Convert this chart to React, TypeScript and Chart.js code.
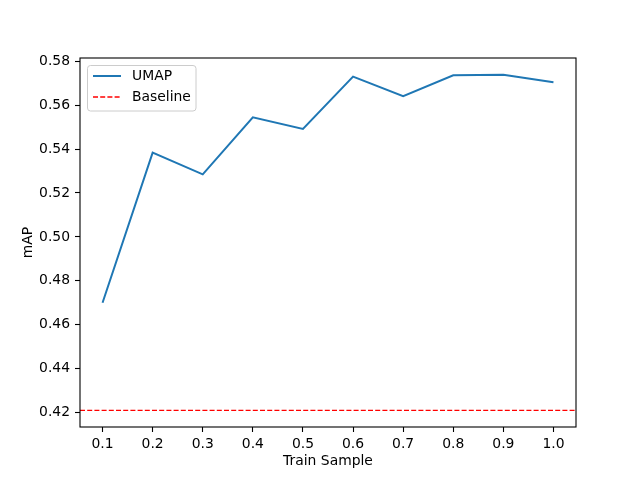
import React, { useEffect, useRef } from "react";
import { Chart, registerables } from "chart.js";

Chart.register(...registerables);

const trainSample = [0.1, 0.2, 0.3, 0.4, 0.5, 0.6, 0.7, 0.8, 0.9, 1.0];
const umapMAP = [0.470, 0.5384, 0.5285, 0.5545, 0.5492, 0.573, 0.5641, 0.5736, 0.5739, 0.5705];
const baselineMAP = 0.421;
const xTickValues = [0.1, 0.2, 0.3, 0.4, 0.5, 0.6, 0.7, 0.8, 0.9, 1.0];
const yTickValues = [0.42, 0.44, 0.46, 0.48, 0.5, 0.52, 0.54, 0.56, 0.58];
const xLimits = [0.055, 1.045];
const yLimits = [0.4134, 0.5815];
const seriesLabels = ["UMAP", "Baseline"];

const FONT = "'DejaVu Sans', sans-serif";
const FS = 13.9;

const framePlugin = {
  id: "frameAndLegend",
  afterDraw(chart: any) {
    const { ctx, chartArea } = chart;
    const { left, top, right, bottom } = chartArea;
    ctx.save();
    ctx.strokeStyle = "#000000";
    ctx.lineWidth = 1.1;
    ctx.strokeRect(left, top, right - left, bottom - top);

    // legend
    const lx = left + 7.5;
    const ly = top + 7.5;
    const lw = 108.5;
    const lh = 45.5;
    const r = 3;
    ctx.beginPath();
    ctx.moveTo(lx + r, ly);
    ctx.lineTo(lx + lw - r, ly);
    ctx.arcTo(lx + lw, ly, lx + lw, ly + r, r);
    ctx.lineTo(lx + lw, ly + lh - r);
    ctx.arcTo(lx + lw, ly + lh, lx + lw - r, ly + lh, r);
    ctx.lineTo(lx + r, ly + lh);
    ctx.arcTo(lx, ly + lh, lx, ly + lh - r, r);
    ctx.lineTo(lx, ly + r);
    ctx.arcTo(lx, ly, lx + r, ly, r);
    ctx.closePath();
    ctx.fillStyle = "rgba(255,255,255,0.8)";
    ctx.fill();
    ctx.strokeStyle = "#cccccc";
    ctx.lineWidth = 1;
    ctx.stroke();

    const ds = chart.data.datasets;
    const rows = [ly + 10.5, ly + 31.5];
    rows.forEach((yy: number, i: number) => {
      ctx.beginPath();
      ctx.strokeStyle = ds[i].borderColor;
      ctx.lineWidth = ds[i].borderWidth;
      ctx.setLineDash(ds[i].borderDash || []);
      ctx.moveTo(lx + 5.5, yy);
      ctx.lineTo(lx + 33.5, yy);
      ctx.stroke();
      ctx.setLineDash([]);
      ctx.fillStyle = "#000000";
      ctx.font = `${FS}px ${FONT}`;
      ctx.textBaseline = "middle";
      ctx.textAlign = "left";
      ctx.fillText(ds[i].label, lx + 44.5, yy + 0.5);
    });
    ctx.restore();
  },
};

export default function App() {
  const ref = useRef<HTMLCanvasElement | null>(null);

  useEffect(() => {
    if (!ref.current) return;
    const chart = new Chart(ref.current, {
      type: "line",
      data: {
        datasets: [
          {
            label: seriesLabels[0],
            data: trainSample.map((x, i) => ({ x, y: umapMAP[i] })),
            borderColor: "#1f77b4",
            borderWidth: 2,
            pointRadius: 0,
            tension: 0,
            fill: false,
          },
          {
            label: seriesLabels[1],
            data: xLimits.map((x) => ({ x, y: baselineMAP })),
            borderColor: "#ff0000",
            borderWidth: 1.3,
            borderDash: [5, 2.2],
            pointRadius: 0,
            fill: false,
          },
        ],
      },
      options: {
        animation: false,
        responsive: false,
        devicePixelRatio: 1,
        layout: { padding: { left: 0, top: 58, right: 64, bottom: 0 } },
        plugins: { legend: { display: false }, tooltip: { enabled: false } },
        scales: {
          x: {
            type: "linear",
            min: xLimits[0],
            max: xLimits[1],
            afterBuildTicks: (s: any) => {
              s.ticks = xTickValues.map((v) => ({ value: v }));
            },
            afterFit: (s: any) => {
              s.height = 53;
            },
            ticks: {
              autoSkip: false,
              maxRotation: 0,
              padding: 4,
              color: "#000000",
              font: { family: FONT, size: FS },
              callback: (v: any) => Number(v).toFixed(1),
            },
            grid: {
              display: true,
              drawOnChartArea: false,
              drawTicks: true,
              tickLength: 5,
              tickColor: "#000000",
              tickWidth: 1.1,
            },
            border: { display: false },
            title: {
              display: true,
              text: "Train Sample",
              color: "#000000",
              font: { family: FONT, size: FS },
              padding: { top: 4, bottom: 10 },
            },
          },
          y: {
            type: "linear",
            min: yLimits[0],
            max: yLimits[1],
            afterBuildTicks: (s: any) => {
              s.ticks = yTickValues.map((v) => ({ value: v }));
            },
            afterFit: (s: any) => {
              s.width = 80;
            },
            ticks: {
              autoSkip: false,
              padding: 5,
              color: "#000000",
              font: { family: FONT, size: FS },
              callback: (v: any) => Number(v).toFixed(2),
            },
            grid: {
              display: true,
              drawOnChartArea: false,
              drawTicks: true,
              tickLength: 5,
              tickColor: "#000000",
              tickWidth: 1.1,
            },
            border: { display: false },
            title: {
              display: true,
              text: "mAP",
              color: "#000000",
              font: { family: FONT, size: FS },
              padding: { top: 20, bottom: 0 },
            },
          },
        },
      },
      plugins: [framePlugin],
    } as any);
    return () => chart.destroy();
  }, []);

  return (
    <div style={{ position: "absolute", left: 0, top: 0, width: 640, height: 480, background: "#ffffff" }}>
      <canvas ref={ref} width={640} height={480} style={{ display: "block" }} />
    </div>
  );
}
